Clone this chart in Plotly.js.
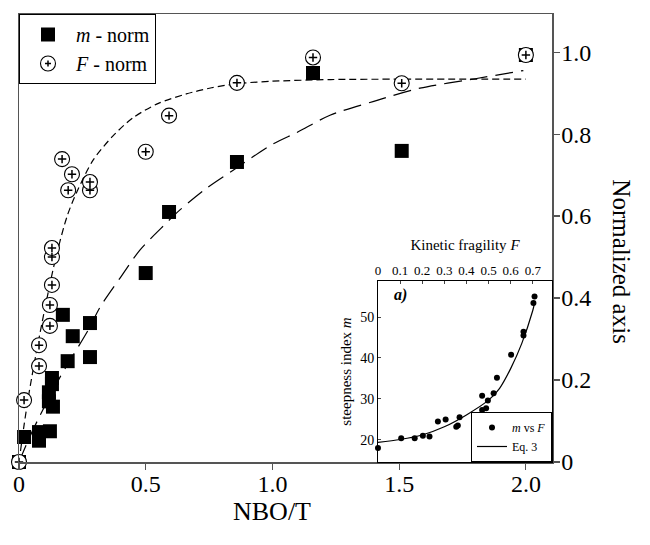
<!DOCTYPE html>
<html>
<head>
<meta charset="utf-8">
<script src="https://cdn.plot.ly/plotly-3.0.1.min.js"></script>
<style>html,body{margin:0;padding:0;background:#fff;}#chart{width:650px;height:545px;}</style>
</head>
<body>
<div id="chart"></div>
<script>
// ---- Main panel data (NBO/T vs normalized value) ----
const mNormX = [0, 0.02, 0.079, 0.079, 0.122, 0.118, 0.118, 0.134, 0.13, 0.13, 0.192, 0.212, 0.173, 0.28, 0.28, 0.50, 0.592, 0.86, 1.16, 1.51, 2.0];
const mNormY = [0, 0.061, 0.073, 0.052, 0.075, 0.17, 0.148, 0.135, 0.19, 0.205, 0.246, 0.307, 0.359, 0.339, 0.256, 0.461, 0.61, 0.732, 0.949, 0.759, 0.993];

const fNormX = [0, 0.02, 0.079, 0.079, 0.122, 0.122, 0.13, 0.13, 0.13, 0.194, 0.28, 0.28, 0.209, 0.17, 0.50, 0.592, 0.86, 1.16, 1.51, 2.0];
const fNormY = [0, 0.151, 0.234, 0.285, 0.332, 0.383, 0.432, 0.50, 0.522, 0.663, 0.663, 0.683, 0.702, 0.739, 0.757, 0.845, 0.925, 0.987, 0.924, 0.993];

// fitted curves
const mFitX = [0, 0.04, 0.08, 0.162, 0.273, 0.32, 0.40, 0.477, 0.56, 0.635, 0.74, 0.845, 1.0, 1.1, 1.227, 1.4, 1.582, 1.8, 1.99];
const mFitY = [0, 0.058, 0.11, 0.207, 0.322, 0.378, 0.45, 0.517, 0.57, 0.615, 0.668, 0.712, 0.775, 0.805, 0.846, 0.88, 0.912, 0.935, 0.955];

const fFitX = [0, 0.02, 0.04, 0.083, 0.142, 0.19, 0.229, 0.293, 0.37, 0.45, 0.55, 0.66, 0.76, 0.86, 1.0, 1.23, 1.5, 2.0];
const fFitY = [0, 0.09, 0.17, 0.315, 0.49, 0.6, 0.66, 0.737, 0.795, 0.84, 0.875, 0.898, 0.913, 0.923, 0.929, 0.933, 0.934, 0.934];

const mainXTicks = [0, 0.5, 1.0, 1.5, 2.0];
const mainXLabels = ["0", "0.5", "1.0", "1.5", "2.0"];
const mainYTicks = [0, 0.2, 0.4, 0.6, 0.8, 1.0];
const mainYLabels = ["0", "0.2", "0.4", "0.6", "0.8", "1.0"];

// ---- Inset data (kinetic fragility F vs steepness index m) ----
const insetF = [0, 0.105, 0.166, 0.203, 0.233, 0.271, 0.306, 0.354, 0.361, 0.369, 0.471, 0.471, 0.489, 0.497, 0.523, 0.538, 0.602, 0.658, 0.658, 0.703, 0.708];
const insetM = [18.0, 20.4, 20.4, 21.0, 20.8, 24.5, 25.0, 23.2, 23.5, 25.5, 30.8, 27.3, 27.7, 29.6, 31.4, 35.2, 40.8, 46.4, 45.5, 53.4, 55.0];

const eq3F = [0, 0.1, 0.2, 0.3, 0.4, 0.5, 0.55, 0.6, 0.65, 0.7, 0.71];
const eq3M = [19.4, 20.1, 21.2, 23.2, 26.1, 29.7, 32.6, 37.4, 43.5, 51.6, 53.8];

const insetXTicks = [0, 0.1, 0.2, 0.3, 0.4, 0.5, 0.6, 0.7];
const insetYTicks = [20, 30, 40, 50];

const serif = "Liberation Serif, Times New Roman, serif";

const traces = [
  {x: mFitX, y: mFitY, mode: 'lines', line: {color: 'black', width: 1.2, dash: '18px,8px', shape: 'spline', smoothing: 0.8}, showlegend: false, hoverinfo: 'skip'},
  {x: fFitX, y: fFitY, mode: 'lines', line: {color: 'black', width: 1.2, dash: '7px,4px', shape: 'spline', smoothing: 0.8}, showlegend: false, hoverinfo: 'skip'},
  {x: mNormX, y: mNormY, mode: 'markers', name: '<i>m</i> - norm', cliponaxis: false,
   marker: {symbol: 'square', size: 14, color: 'black'}},
  {x: fNormX, y: fNormY, mode: 'markers', name: '<i>F</i> - norm', cliponaxis: false,
   marker: {symbol: 'circle', size: 15, color: 'white', line: {color: 'black', width: 1.1}}},
  {x: fNormX, y: fNormY, mode: 'markers', showlegend: false, cliponaxis: false, hoverinfo: 'skip',
   marker: {symbol: 'cross-thin-open', size: 6, color: 'black', line: {color: 'black', width: 1.5}}},
  {x: insetF, y: insetM, xaxis: 'x2', yaxis: 'y2', mode: 'markers', name: '<i>m</i> vs <i>F</i>', legend: 'legend2', cliponaxis: false,
   marker: {symbol: 'circle', size: 6, color: 'black'}},
  {x: eq3F, y: eq3M, xaxis: 'x2', yaxis: 'y2', mode: 'lines', name: 'Eq. 3', legend: 'legend2',
   line: {color: 'black', width: 1.2, shape: 'spline', smoothing: 0.8}}
];

const layout = {
  width: 650, height: 545,
  margin: {l: 19, r: 98, t: 14, b: 83},
  paper_bgcolor: 'white', plot_bgcolor: 'white',
  font: {family: serif, color: 'black'},
  xaxis: {
    domain: [0, 1], range: [0, 2.103], showgrid: false, zeroline: false,
    showline: true, mirror: true, linecolor: '#555', linewidth: 1.5,
    ticks: 'outside', ticklen: 6, tickcolor: '#555', tickwidth: 1.2, ticklabelstandoff: -6,
    tickvals: mainXTicks, ticktext: mainXLabels, tickfont: {family: serif, size: 24}
  },
  yaxis: {
    domain: [0, 1], range: [0, 1.093], side: 'right', showgrid: false, zeroline: false,
    showline: true, mirror: true, linecolor: '#555', linewidth: 1.5,
    ticks: 'outside', ticklen: 6, tickcolor: '#555', tickwidth: 1.2, ticklabelstandoff: -3,
    tickvals: mainYTicks, ticktext: mainYLabels, tickfont: {family: serif, size: 24}
  },
  xaxis2: {
    domain: [0.6735, 1], range: [0, 0.787], anchor: 'y2', side: 'top',
    showgrid: false, zeroline: false, showline: true, mirror: true, linecolor: 'black', linewidth: 1,
    ticks: 'inside', ticklen: 3, tickvals: insetXTicks, tickfont: {family: serif, size: 13},
    title: {text: 'Kinetic fragility <i>F</i>', font: {family: serif, size: 15}, standoff: 8}
  },
  yaxis2: {
    domain: [0, 0.404], range: [14.6, 58.8], anchor: 'x2',
    showgrid: false, zeroline: false, showline: true, mirror: true, linecolor: 'black', linewidth: 1,
    ticks: 'inside', ticklen: 3, tickvals: insetYTicks, tickfont: {family: serif, size: 14},
    title: {text: 'steepness index <i>m</i>', font: {family: serif, size: 15}, standoff: 4}
  },
  legend: {
    x: 0, y: 1, xanchor: 'left', yanchor: 'top',
    bgcolor: 'white', bordercolor: 'black', borderwidth: 1,
    font: {family: serif, size: 20}, tracegroupgap: 0, itemwidth: 46
  },
  legend2: {
    x: 1, y: 0, xanchor: 'right', yanchor: 'bottom',
    bgcolor: 'white', bordercolor: 'black', borderwidth: 1,
    font: {family: serif, size: 12}, itemwidth: 30
  },
  annotations: [
    {text: 'NBO/T', xref: 'paper', yref: 'paper', x: 0.475, y: -0.11, showarrow: false,
     font: {family: serif, size: 26}, xanchor: 'center', yanchor: 'middle'},
    {text: 'Normalized axis', xref: 'paper', yref: 'paper', x: 1.131, y: 0.446, showarrow: false,
     textangle: 90, font: {family: serif, size: 25}, xanchor: 'center', yanchor: 'middle'},
    {text: '<b><i>a)</i></b>', xref: 'paper', yref: 'paper', x: 0.715, y: 0.373, showarrow: false,
     font: {family: serif, size: 16}, xanchor: 'center', yanchor: 'middle'}
  ]
};

Plotly.newPlot('chart', traces, layout, {staticPlot: true, displayModeBar: false}).then(function (gd) {
  // add the small plus inside the legend's circle glyph, matching the data markers
  const pts = gd.querySelectorAll('.legend .traces');
  if (pts.length >= 2) {
    const glyph = pts[1].querySelector('.legendpoints path');
    if (glyph) {
      const ns = 'http://www.w3.org/2000/svg';
      const plus = document.createElementNS(ns, 'path');
      plus.setAttribute('d', 'M-3,0H3M0,-3V3');
      plus.setAttribute('stroke', 'black');
      plus.setAttribute('stroke-width', '1.5');
      plus.setAttribute('fill', 'none');
      plus.setAttribute('transform', glyph.getAttribute('transform') || '');
      glyph.parentNode.appendChild(plus);
    }
  }
});
</script>
</body>
</html>
